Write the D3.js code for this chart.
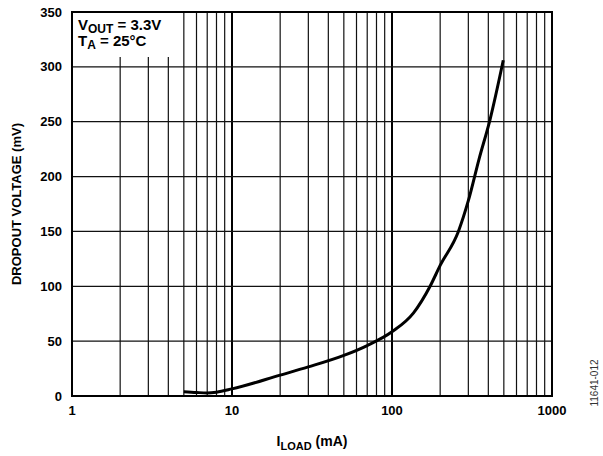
<!DOCTYPE html>
<html lang="en">
<head>
    <meta charset="UTF-8">
    <title>Dropout voltage vs load current</title>
    <script src="https://d3js.org/d3.v7.min.js"></script>
    <style>
        body { margin: 0; background: #fff; }
        text { font-family: "Liberation Sans", Arial, sans-serif; }
    </style>
</head>
<body>

<svg id="chart" width="603" height="456"></svg>
<script>

    // load current (mA) and dropout voltage (mV)
    const loadCurrent = [5, 6, 7, 8, 10, 20, 30, 50, 70, 100, 136, 173, 200, 260, 300, 350, 410, 496];
    const dropout = [3.9, 3.2, 2.8, 3.5, 6.5, 19, 26.5, 37, 46, 58.5, 75.5, 100, 119, 150, 178, 216, 252, 306];

    const xTickValues = [1, 10, 100, 1000];
    const yTickValues = [0, 50, 100, 150, 200, 250, 300, 350];

    window.onload = function () {

        const svg = d3.select("#chart");
        const left = 72, right = 552, top = 12, bottom = 396;

        const x = d3.scaleLog().domain([1, 1000]).range([left, right]);
        const y = d3.scaleLinear().domain([0, 350]).range([bottom, top]);

        // minor + major vertical grid lines
        const minor = [];
        for (let dec = 1; dec < 1000; dec *= 10) {
            for (let k = 2; k <= 9; k++) minor.push(dec * k);
        }
        svg.append("g")
            .selectAll("line")
            .data(minor)
            .join("line")
            .attr("x1", d => x(d)).attr("x2", d => x(d))
            .attr("y1", top).attr("y2", bottom)
            .attr("stroke", "#111")
            .attr("stroke-width", 1.2);

        svg.append("g")
            .selectAll("line")
            .data([10, 100])
            .join("line")
            .attr("x1", d => x(d)).attr("x2", d => x(d))
            .attr("y1", top).attr("y2", bottom)
            .attr("stroke", "#000")
            .attr("stroke-width", 2);

        // horizontal grid lines
        svg.append("g")
            .selectAll("line")
            .data(yTickValues.slice(1, -1))
            .join("line")
            .attr("x1", left).attr("x2", right)
            .attr("y1", d => y(d)).attr("y2", d => y(d))
            .attr("stroke", "#111")
            .attr("stroke-width", 1.2);

        // white box behind the conditions text
        svg.append("rect")
            .attr("x", left).attr("y", top)
            .attr("width", 109).attr("height", 45)
            .attr("fill", "#fff");

        // frame
        svg.append("rect")
            .attr("x", left).attr("y", top)
            .attr("width", right - left).attr("height", bottom - top)
            .attr("fill", "none")
            .attr("stroke", "#000")
            .attr("stroke-width", 2);

        // curve
        const pts = loadCurrent.map((c, i) => [c, dropout[i]]);
        const line = d3.line()
            .x(d => x(d[0]))
            .y(d => y(d[1]))
            .curve(d3.curveMonotoneX);
        svg.append("path")
            .datum(pts)
            .attr("d", line)
            .attr("fill", "none")
            .attr("stroke", "#000")
            .attr("stroke-width", 3)
            .attr("stroke-linejoin", "round");

        // tick labels
        svg.append("g")
            .selectAll("text")
            .data(yTickValues)
            .join("text")
            .attr("x", 62)
            .attr("y", d => y(d) + 4.5)
            .attr("text-anchor", "end")
            .attr("font-size", 13)
            .attr("font-weight", "bold")
            .text(d => d);

        svg.append("g")
            .selectAll("text")
            .data(xTickValues)
            .join("text")
            .attr("x", d => x(d))
            .attr("y", 415)
            .attr("text-anchor", "middle")
            .attr("font-size", 13)
            .attr("font-weight", "bold")
            .text(d => d);

        // axis titles
        svg.append("text")
            .attr("transform", "translate(21,204) rotate(-90)")
            .attr("text-anchor", "middle")
            .attr("font-size", 13)
            .attr("font-weight", "bold")
            .text("DROPOUT VOLTAGE (mV)");

        const xt = svg.append("text")
            .attr("x", 312)
            .attr("y", 446)
            .attr("text-anchor", "middle")
            .attr("font-size", 14)
            .attr("font-weight", "bold");
        xt.append("tspan").text("I");
        xt.append("tspan").attr("font-size", 11).attr("dy", 4).text("LOAD");
        xt.append("tspan").attr("dy", -4).text(" (mA)");

        // conditions
        const c1 = svg.append("text")
            .attr("x", 78).attr("y", 30)
            .attr("font-size", 15)
            .attr("font-weight", "bold");
        c1.append("tspan").text("V");
        c1.append("tspan").attr("font-size", 12).attr("dy", 3).text("OUT");
        c1.append("tspan").attr("dy", -3).text(" = 3.3V");

        const c2 = svg.append("text")
            .attr("x", 78).attr("y", 46)
            .attr("font-size", 15)
            .attr("font-weight", "bold");
        c2.append("tspan").text("T");
        c2.append("tspan").attr("font-size", 12).attr("dy", 3).text("A");
        c2.append("tspan").attr("dy", -3).text(" = 25°C");

        // figure id
        svg.append("text")
            .attr("transform", "translate(598,383) rotate(-90)")
            .attr("text-anchor", "middle")
            .attr("font-size", 10)
            .attr("fill", "#333")
            .text("11641-012");
    };

</script>

</body>
</html>
